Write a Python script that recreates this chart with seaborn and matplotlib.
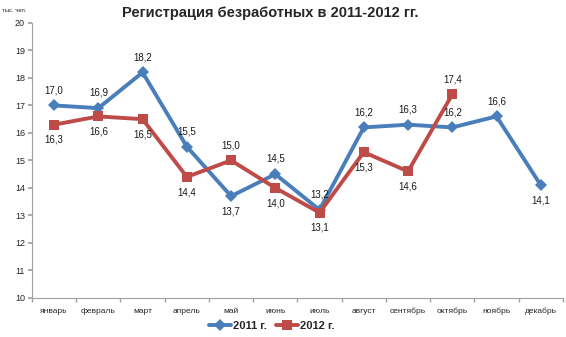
import matplotlib
matplotlib.use("Agg")
import matplotlib.pyplot as plt
import seaborn as sns
import pandas as pd

months = ["январь", "февраль", "март", "апрель", "май", "июнь", "июль",
          "август", "сентябрь", "октябрь", "ноябрь", "декабрь"]
values_2011 = [17.0, 16.9, 18.2, 15.5, 13.7, 14.5, 13.2, 16.2, 16.3, 16.2, 16.6, 14.1]
values_2012 = [16.3, 16.6, 16.5, 14.4, 15.0, 14.0, 13.1, 15.3, 14.6, 17.4]
# label placement: +1 above the point, -1 below
pos_2011 = [1, 1, 1, 1, -1, 1, 1, 1, 1, 1, 1, -1]
pos_2012 = [-1, -1, -1, -1, 1, -1, -1, -1, -1, 1]
series_names = ["2011 г.", "2012 г."]
colors = ["#4a7ebb", "#be4b48"]

sns.set_theme(style="white")
plt.rcParams["font.family"] = ["Liberation Sans", "DejaVu Sans"]

rows = []
for i, v in enumerate(values_2011):
    rows.append({"idx": i, "value": v, "series": series_names[0]})
for i, v in enumerate(values_2012):
    rows.append({"idx": i, "value": v, "series": series_names[1]})
df = pd.DataFrame(rows)

fig = plt.figure(figsize=(5.66, 3.37), dpi=100)
ax = fig.add_axes([0.0565, 0.116, 0.938, 0.816])

sns.lineplot(data=df, x="idx", y="value", hue="series", style="series",
             markers={series_names[0]: "D", series_names[1]: "s"}, dashes=False,
             palette=dict(zip(series_names, colors)), linewidth=2.8,
             markersize=6.5, markeredgewidth=0, ax=ax, legend=False)

def fmt(v):
    return f"{v:.1f}".replace(".", ",")

for vals, pos in ((values_2011, pos_2011), (values_2012, pos_2012)):
    for i, (v, p) in enumerate(zip(vals, pos)):
        ax.annotate(fmt(v), (i, v), xytext=(0, 11 * p), textcoords="offset points",
                    ha="center", va="center", fontsize=7, color="#1a1a1a")

ax.set_xlim(-0.5, 11.5)
ax.set_ylim(10, 20)
ax.set_yticks(range(10, 21))
ax.set_xticks(range(len(months)))
ax.set_xticklabels(months)
ax.set_xlabel("")
ax.set_ylabel("")
ax.tick_params(axis="y", labelsize=6.5, length=3, color="#a0a0a0", left=True, pad=2)
ax.tick_params(axis="x", labelsize=6, length=0, pad=7)
# category separators on the x axis
ax.set_xticks([i + 0.5 for i in range(-1, 12)], minor=True)
ax.tick_params(axis="x", which="minor", length=3, color="#a0a0a0", bottom=True)
for side in ("top", "right"):
    ax.spines[side].set_visible(False)
for side in ("left", "bottom"):
    ax.spines[side].set_color("#a0a0a0")
    ax.spines[side].set_linewidth(0.8)

fig.text(0.477, 0.962, "Регистрация безработных в 2011-2012 гг.", ha="center", va="center",
         fontsize=10.5, fontweight="bold")
fig.text(0.004, 0.968, "тыс. чел.", ha="left", va="center", fontsize=4.2)

handles = [plt.Line2D([], [], color=c, marker=m, linewidth=2.8, markersize=6.5,
                      markeredgewidth=0)
           for c, m in zip(colors, ["D", "s"])]
fig.legend(handles, series_names, loc="center", bbox_to_anchor=(0.48, 0.032), ncol=2,
           frameon=False, prop={"size": 8, "weight": "bold"}, handlelength=2.0,
           handletextpad=0.2, columnspacing=0.8)

fig.savefig("out.png", dpi=100)
